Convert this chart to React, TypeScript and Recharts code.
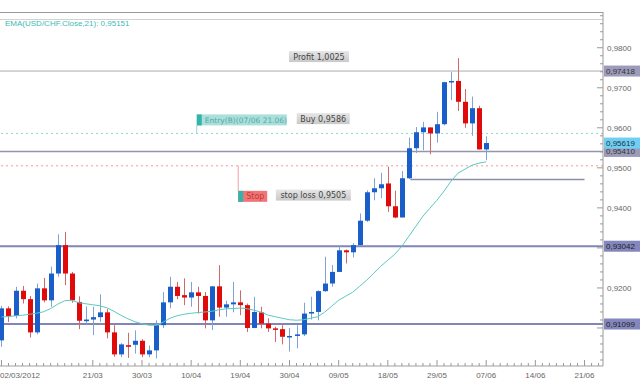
import React from 'react';
import { ComposedChart, Bar, Line, XAxis, YAxis, ReferenceLine, ReferenceDot } from 'recharts';

const DATES = [
  '02/03', '05/03', '06/03', '07/03', '08/03', '09/03', '12/03', '13/03', '14/03', '15/03',
  '16/03', '19/03', '20/03', '21/03', '22/03', '23/03', '26/03', '27/03', '28/03', '29/03',
  '30/03', '02/04', '03/04', '04/04', '05/04', '06/04', '09/04', '10/04', '11/04', '12/04',
  '13/04', '16/04', '17/04', '18/04', '19/04', '20/04', '23/04', '24/04', '25/04', '26/04',
  '27/04', '30/04', '01/05', '02/05', '03/05', '04/05', '07/05', '08/05', '09/05', '10/05',
  '11/05', '14/05', '15/05', '16/05', '17/05', '18/05', '21/05', '22/05', '23/05', '24/05',
  '25/05', '28/05', '29/05', '30/05', '31/05', '01/06', '04/06', '05/06', '06/06', '07/06',
];

const OPEN = [
  0.9069, 0.9149, 0.9130, 0.9193, 0.9172, 0.9089, 0.9199, 0.9169, 0.9236, 0.9307,
  0.9236, 0.9165, 0.9117, 0.9121, 0.9127, 0.9139, 0.9089, 0.9034, 0.9057, 0.9058,
  0.9068, 0.9034, 0.9044, 0.9107, 0.9164, 0.9203, 0.9182, 0.9176, 0.9189, 0.9180,
  0.9119, 0.9204, 0.9151, 0.9159, 0.9164, 0.9157, 0.9100, 0.9139, 0.9111, 0.9099,
  0.9097, 0.9078, 0.9080, 0.9084, 0.9136, 0.9140, 0.9192, 0.9211, 0.9240, 0.9294,
  0.9289, 0.9307, 0.9368, 0.9439, 0.9449, 0.9461, 0.9404, 0.9376, 0.9474, 0.9549,
  0.9589, 0.9601, 0.9586, 0.9609, 0.9714, 0.9717, 0.9665, 0.9611, 0.9649, 0.9546,
];

const HIGH = [
  0.9155, 0.9154, 0.9203, 0.9205, 0.9180, 0.9211, 0.9225, 0.9253, 0.9334, 0.9340,
  0.9240, 0.9179, 0.9154, 0.9153, 0.9184, 0.9147, 0.9107, 0.9062, 0.9088, 0.9094,
  0.9072, 0.9056, 0.9119, 0.9190, 0.9228, 0.9215, 0.9224, 0.9215, 0.9203, 0.9190,
  0.9205, 0.9257, 0.9168, 0.9215, 0.9194, 0.9161, 0.9178, 0.9153, 0.9124, 0.9103,
  0.9107, 0.9100, 0.9107, 0.9163, 0.9178, 0.9194, 0.9278, 0.9257, 0.9307, 0.9296,
  0.9312, 0.9386, 0.9444, 0.9474, 0.9488, 0.9503, 0.9443, 0.9492, 0.9576, 0.9602,
  0.9615, 0.9601, 0.9640, 0.9715, 0.9739, 0.9774, 0.9697, 0.9678, 0.9655, 0.9579,
];

const LOW = [
  0.9053, 0.9115, 0.9124, 0.9161, 0.9076, 0.9084, 0.9164, 0.9153, 0.9228, 0.9207,
  0.9163, 0.9097, 0.9107, 0.9082, 0.9115, 0.9074, 0.9028, 0.9027, 0.9025, 0.9036,
  0.9027, 0.9027, 0.9024, 0.9100, 0.9149, 0.9172, 0.9157, 0.9153, 0.9136, 0.9099,
  0.9095, 0.9128, 0.9128, 0.9139, 0.9132, 0.9090, 0.9099, 0.9099, 0.9090, 0.9065,
  0.9059, 0.9041, 0.9049, 0.9080, 0.9121, 0.9119, 0.9190, 0.9203, 0.9240, 0.9261,
  0.9276, 0.9305, 0.9365, 0.9419, 0.9424, 0.9390, 0.9374, 0.9376, 0.9472, 0.9537,
  0.9544, 0.9534, 0.9563, 0.9606, 0.9669, 0.9642, 0.9600, 0.9580, 0.9546, 0.9519,
];

const CLOSE = [
  0.9149, 0.9130, 0.9193, 0.9172, 0.9089, 0.9199, 0.9169, 0.9236, 0.9307, 0.9236,
  0.9169, 0.9118, 0.9121, 0.9127, 0.9139, 0.9089, 0.9034, 0.9059, 0.9053, 0.9068,
  0.9034, 0.9044, 0.9107, 0.9164, 0.9203, 0.9180, 0.9176, 0.9189, 0.9180, 0.9119,
  0.9204, 0.9151, 0.9159, 0.9164, 0.9157, 0.9100, 0.9140, 0.9111, 0.9099, 0.9097,
  0.9078, 0.9080, 0.9084, 0.9136, 0.9140, 0.9192, 0.9211, 0.9240, 0.9294, 0.9289,
  0.9307, 0.9368, 0.9439, 0.9449, 0.9459, 0.9404, 0.9376, 0.9474, 0.9549, 0.9589,
  0.9601, 0.9586, 0.9609, 0.9714, 0.9717, 0.9665, 0.9611, 0.9649, 0.9546, 0.9562,
];

// EMA(21)
const EMA21 = [
  0.91275, 0.91285, 0.91305, 0.91318, 0.91343, 0.91368, 0.91405, 0.91485, 0.91593, 0.91680,
  0.91693, 0.91630, 0.91605, 0.91580, 0.91555, 0.91505, 0.91418, 0.91318, 0.91230, 0.91155,
  0.91105, 0.91068, 0.91068, 0.91143, 0.91243, 0.91305, 0.91343, 0.91368, 0.91385, 0.91400,
  0.91418, 0.91455, 0.91480, 0.91485, 0.91498, 0.91480, 0.91443, 0.91393, 0.91318, 0.91280,
  0.91243, 0.91205, 0.91193, 0.91205, 0.91243, 0.91280, 0.91393, 0.91543, 0.91693, 0.91793,
  0.91893, 0.92043, 0.92193, 0.92368, 0.92543, 0.92693, 0.92843, 0.93043, 0.93293, 0.93543,
  0.93793, 0.93993, 0.94193, 0.94418, 0.94668, 0.94868, 0.94968, 0.95068, 0.95118, 0.95151,
];

const X_TICK_LABELS = ['02/03/2012', '21/03', '30/03', '10/04', '19/04', '30/04', '09/05', '18/05', '29/05', '07/06', '14/06', '21/06'];
const X_TICK_SLOTS = [0, 13, 20, 27, 34, 41, 48, 55, 62, 69, 76, 83];

const LEVEL_VALUES = [0.97418, 0.9541, 0.93042, 0.91099];
const LEVEL_LABELS = ['0,97418', '0,95410', '0,93042', '0,91099'];
const LAST_PRICE = 0.95619;
const BUY_PRICE = 0.9586;
const STOP_PRICE = 0.9505;
const SUPPORT = 0.9471;

const data = DATES.map((d, i) => ({
  i,
  date: d,
  open: OPEN[i],
  high: HIGH[i],
  low: LOW[i],
  close: CLOSE[i],
  range: [LOW[i], HIGH[i]],
  ema: EMA21[i],
}));

const xTicks = Array.from({ length: 86 }, (_, k) => k);
const yTicks = Array.from({ length: 44 }, (_, k) => Math.round((0.902 + k * 0.002) * 10000) / 10000);

const FONT = 'Liberation Sans, Arial, sans-serif';
const FONT2 = 'DejaVu Sans, Verdana, sans-serif';

const Candle = (props: any) => {
  const { x, y, width, height, payload } = props;
  if (!payload) return null;
  const top = Math.min(y, y + height);
  const h = Math.abs(height);
  const { open, close, high, low } = payload;
  const up = close >= open;
  const span = high - low || 1e-9;
  const py = (v: number) => top + ((high - v) / span) * h;
  const cx = Math.round(x + width / 2);
  const b1 = py(Math.max(open, close));
  const b2 = py(Math.min(open, close));
  return (
    <g>
      <line x1={cx + 0.5} x2={cx + 0.5} y1={top} y2={top + h} stroke={up ? '#7fa3d6' : '#d06a6a'} strokeWidth={1} />
      <rect x={cx - 2} y={b1} width={5} height={Math.max(1.5, b2 - b1)} fill={up ? '#1a5fc9' : '#e00a0a'} />
    </g>
  );
};

const XTick = (props: any) => {
  const { x, y, payload } = props;
  const k = X_TICK_SLOTS.indexOf(payload.value);
  const major = k >= 0;
  return (
    <g>
      <line x1={x} x2={x} y1={y} y2={y - (major ? 6 : 3)} stroke="#999" />
      {major && (
        <text x={k === 0 ? 0 : x} y={y + 12} textAnchor={k === 0 ? 'start' : 'middle'} fontSize={8} fontFamily={FONT} fill="#666">
          {X_TICK_LABELS[k]}
        </text>
      )}
    </g>
  );
};

const YTick = (props: any) => {
  const { x, y, payload } = props;
  const v = payload.value;
  const major = Math.abs(v * 100 - Math.round(v * 100)) < 1e-6;
  const hidden = Math.abs(v - 0.93) < 1e-6 || Math.abs(v - 0.91) < 1e-6;
  return (
    <g>
      <line x1={x - (major ? 6 : 3)} x2={x} y1={y} y2={y} stroke="#999" />
      {major && !hidden && (
        <text x={x + 4} y={y + 3} fontSize={8} fontFamily={FONT} fill="#666">
          {v.toFixed(4).replace('.', ',')}
        </text>
      )}
    </g>
  );
};

const tag = (text: string, bg: string, fg: string) => (p: any) => {
  const vb = p.viewBox || {};
  const x0 = vb.x + vb.width + 1;
  const yc = vb.y;
  return (
    <g>
      <rect x={x0} y={yc - 5.5} width={36} height={11} fill={bg} />
      <text x={x0 + 2} y={yc + 3} fontSize={8} fontFamily={FONT} fill={fg}>{text}</text>
    </g>
  );
};

const GrayBox = (text: string, w: number) => (p: any) => {
  const { cx, cy } = p;
  return (
    <g>
      <defs>
        <linearGradient id="gbox" x1="0" y1="0" x2="0" y2="1">
          <stop offset="0" stopColor="#e6e6e6" />
          <stop offset="1" stopColor="#c9c9c9" />
        </linearGradient>
      </defs>
      <rect x={cx - w / 2} y={cy - 5.5} width={w} height={11} fill="url(#gbox)" />
      <text x={cx} y={cy + 3} textAnchor="middle" fontSize={8} fontFamily={FONT2} fill="#444">{text}</text>
    </g>
  );
};

const EntryMark = (p: any) => {
  const { cx, cy } = p;
  return (
    <g>
      <line x1={cx} x2={cx} y1={cy} y2={cy - 8} stroke="#9bd6d2" />
      <rect x={cx} y={cy - 19} width={90} height={11} fill="#a9e0dc" />
      <rect x={cx} y={cy - 19} width={5} height={11} fill="#33b3aa" />
      <text x={cx + 8} y={cy - 10.5} fontSize={7.5} fontFamily={FONT2} fill="#5aa7a1">Entry(B)(07/06 21.06)</text>
    </g>
  );
};

const StopMark = (p: any) => {
  const { cx, cy } = p;
  return (
    <g>
      <line x1={cx} x2={cx} y1={cy} y2={cy + 25} stroke="#f0a0a8" />
      <rect x={cx} y={cy + 25} width={29} height={11} fill="#f07676" />
      <rect x={cx} y={cy + 25} width={5} height={11} fill="#33b3aa" />
      <text x={cx + 8} y={cy + 33.5} fontSize={8} fontFamily={FONT2} fill="#c43a3a">Stop</text>
    </g>
  );
};

export default function App() {
  const below = { zIndex: 50 } as any;
  return (
    <div style={{ position: 'absolute', left: 0, top: 0, width: 640, height: 382, background: '#fff', overflow: 'hidden' }}>
      <div style={{ position: 'absolute', left: 0, top: 12, width: 603, height: 1, background: '#9a9a9a' }} />
      <div style={{ position: 'absolute', left: 0, top: 19, width: 603, height: 1, background: '#d2d2d2' }} />
      <div style={{ position: 'absolute', left: 5, top: 19, fontSize: 8, fontFamily: FONT, color: '#3bbcb2' }}>
        EMA(USD/CHF.Close,21): 0,95151
      </div>
      <ComposedChart width={640} height={382} data={data} margin={{ top: 12, right: 0, bottom: 0, left: 0 }}>
        <XAxis
          type="number"
          dataKey="i"
          domain={[-0.21, 85.63]}
          ticks={xTicks}
          interval={0}
          allowDataOverflow
          tickSize={0}
          tickMargin={0}
          tickLine={false}
          axisLine={{ stroke: '#a0a0a0' }}
          height={16}
          tick={<XTick />}
        />
        <YAxis
          orientation="right"
          domain={[0.9005, 0.98893]}
          ticks={yTicks}
          interval={0}
          allowDataOverflow
          width={37}
          tickSize={0}
          tickMargin={0}
          tickLine={false}
          axisLine={{ stroke: '#999' }}
          tick={<YTick />}
        />
        <ReferenceLine {...below} y={BUY_PRICE} stroke="#8fd3ce" strokeDasharray="2 3" />
        <ReferenceLine {...below} y={STOP_PRICE} stroke="#f09a9a" strokeDasharray="2 3" />
        <ReferenceLine {...below} y={LEVEL_VALUES[0]} stroke="#ababab" label={tag(LEVEL_LABELS[0], '#9c9cba', '#333')} />
        <ReferenceLine {...below} y={LEVEL_VALUES[1]} stroke="#9494ae" strokeWidth={1.5} label={tag(LEVEL_LABELS[1], '#9c9cba', '#333')} />
        <ReferenceLine {...below} y={LEVEL_VALUES[2]} stroke="#8285b8" strokeWidth={2} label={tag(LEVEL_LABELS[2], '#8387bd', '#222')} />
        <ReferenceLine {...below} y={LEVEL_VALUES[3]} stroke="#8285b8" strokeWidth={2} label={tag(LEVEL_LABELS[3], '#8387bd', '#222')} />
        <ReferenceLine {...below} segment={[{ x: 58.2, y: SUPPORT }, { x: 83, y: SUPPORT }]} stroke="#8a8cb0" strokeWidth={1.5} />
        <ReferenceLine {...below} y={LAST_PRICE} stroke="none" label={tag('0,95619', '#6fcff2', '#234')} />
        <Line dataKey="ema" stroke="#5cc9c1" strokeWidth={1} dot={false} isAnimationActive={false} type="linear" />
        <Bar dataKey="range" barSize={5} shape={Candle} isAnimationActive={false} />
        <ReferenceDot x={45.2} y={0.9778} r={0} shape={GrayBox('Profit 1,0025', 60)} />
        <ReferenceDot x={45.8} y={0.9623} r={0} shape={GrayBox('Buy 0,9586', 53)} />
        <ReferenceDot x={44.4} y={0.9432} r={0} shape={GrayBox('stop loss 0,9505', 75)} />
        <ReferenceDot x={27.8} y={BUY_PRICE} r={0} shape={EntryMark} />
        <ReferenceDot x={33.7} y={STOP_PRICE} r={0} shape={StopMark} />
      </ComposedChart>
    </div>
  );
}
